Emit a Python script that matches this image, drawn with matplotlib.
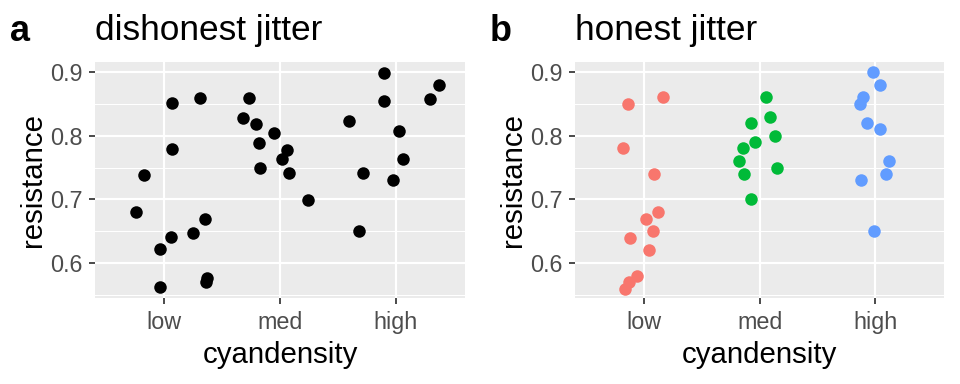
import matplotlib
matplotlib.use("Agg")
import matplotlib.pyplot as plt
from matplotlib.ticker import MultipleLocator

plt.rcParams['font.family'] = ['Liberation Sans', 'DejaVu Sans']

categories = ["low", "med", "high"]

# panel a: dishonest jitter (both x and y jittered)
dis_x = [2.896, 3.375, 2.902, 3.294, 1.067, 1.306, 1.733, 1.681, 1.791, 1.946,
         2.596, 3.029, 1.067, 1.816, 2.062, 2.016, 3.061, 0.824, 1.823, 2.076,
         2.717, 2.980, 2.238, 0.752, 1.349, 1.251, 1.055, 2.682, 0.963, 1.372,
         1.361, 0.965]
dis_y = [0.898, 0.879, 0.854, 0.857, 0.851, 0.859, 0.859, 0.827, 0.818, 0.804,
         0.823, 0.807, 0.779, 0.788, 0.777, 0.763, 0.763, 0.739, 0.749, 0.741,
         0.742, 0.731, 0.699, 0.681, 0.670, 0.648, 0.641, 0.650, 0.623, 0.577,
         0.570, 0.563]

# panel b: honest jitter (x only)
low_x = [0.863, 1.160, 0.814, 1.085, 1.120, 1.015, 1.076, 0.875, 1.038, 0.941, 0.866, 0.834]
low_y = [0.85, 0.86, 0.78, 0.74, 0.68, 0.67, 0.65, 0.64, 0.62, 0.58, 0.57, 0.56]
med_x = [2.057, 2.089, 1.923, 2.135, 1.958, 1.853, 1.821, 2.153, 1.865, 1.923]
med_y = [0.86, 0.83, 0.82, 0.80, 0.79, 0.78, 0.76, 0.75, 0.74, 0.70]
high_x = [2.983, 3.046, 2.893, 2.866, 2.930, 3.046, 3.122, 3.093, 2.875, 2.994]
high_y = [0.90, 0.88, 0.86, 0.85, 0.82, 0.81, 0.76, 0.74, 0.73, 0.65]
colors = ["#F8766D", "#00BA38", "#619CFF"]

W, H = 960, 384
fig = plt.figure(figsize=(W / 96, H / 96), dpi=96)

def make_ax(left, right, top=61.7, bottom=298.3):
    ax = fig.add_axes([left / W, (H - bottom) / H, (right - left) / W, (bottom - top) / H])
    ax.set_facecolor("#EBEBEB")
    for s in ax.spines.values():
        s.set_visible(False)
    ax.set_xlim(0.4, 3.6)
    ax.set_ylim(0.545, 0.916)
    ax.set_xticks([1, 2, 3])
    ax.set_xticklabels(categories)
    ax.yaxis.set_minor_locator(MultipleLocator(0.05))
    ax.set_yticks([0.6, 0.7, 0.8, 0.9])
    ax.set_yticklabels(["0.6", "0.7", "0.8", "0.9"])
    ax.grid(True, which="major", color="white", linewidth=1.6)
    ax.grid(True, which="minor", axis="y", color="white", linewidth=0.8)
    ax.set_axisbelow(True)
    ax.tick_params(axis="both", which="major", length=4.5, width=1.3, color="#333333",
                   labelsize=17.5, labelcolor="#4D4D4D")
    ax.tick_params(axis="y", which="major", pad=5)
    ax.tick_params(axis="x", which="major", pad=5)
    ax.tick_params(axis="both", which="minor", length=0)
    xc = (left + right) / 2
    yc = (top + bottom) / 2
    fig.text(xc / W, 1 - 362.7 / H, "cyandensity", fontsize=22, ha="center", va="baseline")
    fig.text((left - 62) / W, 1 - yc / H, "resistance", fontsize=22, rotation=90,
             ha="center", va="center")
    return ax

ax1 = make_ax(95, 465)
ax1.scatter(dis_x, dis_y, s=88, color="black", linewidths=0, zorder=3)

ax2 = make_ax(575, 944.3)
for xs, ys, c in zip([low_x, med_x, high_x], [low_y, med_y, high_y], colors):
    ax2.scatter(xs, ys, s=88, color=c, linewidths=0, zorder=3)

fig.text(95 / W, 1 - 40 / H, "dishonest jitter", fontsize=26.4, ha="left", va="baseline")
fig.text(575 / W, 1 - 40 / H, "honest jitter", fontsize=26.4, ha="left", va="baseline")
fig.text(10 / W, 1 - 40.7 / H, "a", fontsize=27, fontweight="bold", ha="left", va="baseline")
fig.text(490 / W, 1 - 40.7 / H, "b", fontsize=27, fontweight="bold", ha="left", va="baseline")

fig.savefig("out.png", dpi=96)
